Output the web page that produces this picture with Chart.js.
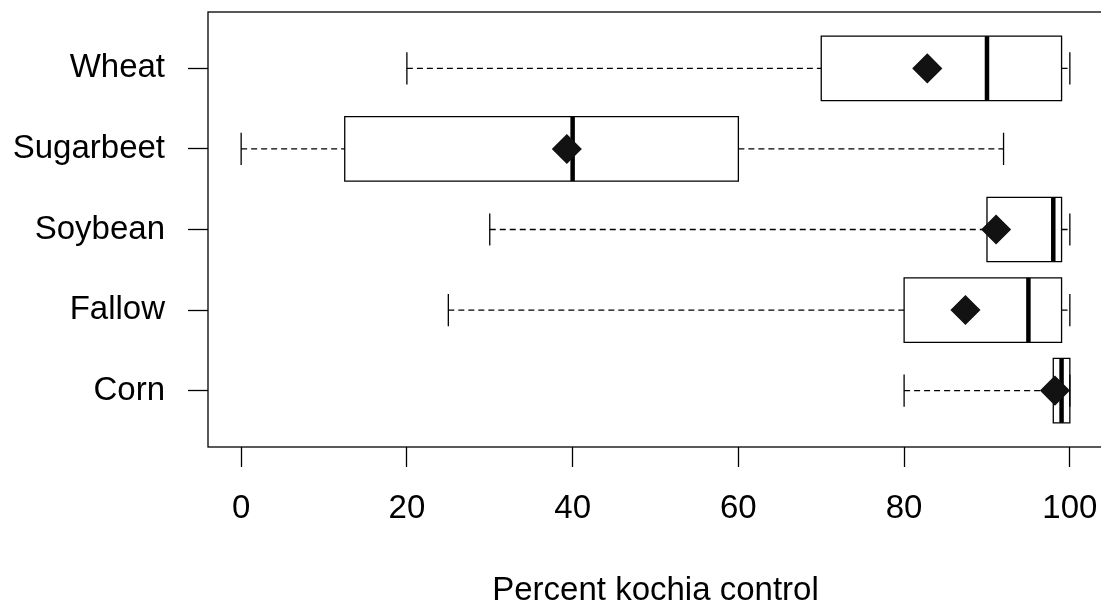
<!DOCTYPE html>
<html>
<head>
<meta charset="utf-8">
<script src="https://cdn.jsdelivr.net/npm/chart.js@4/dist/chart.umd.min.js"></script>
<style>
  html, body { margin: 0; padding: 0; background: #fff; overflow: hidden; }
  #wrap { width: 1110px; height: 620px; }
</style>
</head>
<body>
<div id="wrap"><canvas id="c" width="1110" height="620"></canvas></div>
<script>
// Categories (bottom to top)
const categories = ['Corn', 'Fallow', 'Soybean', 'Sugarbeet', 'Wheat'];
// Box statistics, percent kochia control
const whiskerLow  = [80, 25, 30, 0, 20];
const q1          = [98, 80, 90, 12.5, 70];
const medians     = [99, 95, 98, 40, 90];
const q3          = [100, 99, 99, 60, 99];
const whiskerHigh = [100, 100, 100, 92, 100];
const means       = [98.2, 87.4, 91.1, 39.3, 82.8];
// Axis ticks
const xTicks = [0, 20, 40, 60, 80, 100];
const xTitle = 'Percent kochia control';

const FONT = { family: "'Liberation Sans', Arial, Helvetica, sans-serif", size: 33 };
const BOX_HALF = 0.4;     // half box height in category units
const STAPLE_HALF = 0.2;  // half staple height in category units

function zeroPad(s) { s.paddingTop = 0; s.paddingBottom = 0; s.paddingLeft = 0; s.paddingRight = 0; }

const boxPlugin = {
  id: 'boxes',
  beforeDatasetsDraw(chart) {
    const ctx = chart.ctx;
    const xs = chart.scales.x, ys = chart.scales.y;
    ctx.save();
    ctx.strokeStyle = '#000';
    for (let i = 0; i < categories.length; i++) {
      const yc = ys.getPixelForValue(i + 1);
      const yT = ys.getPixelForValue(i + 1 + BOX_HALF);
      const yB = ys.getPixelForValue(i + 1 - BOX_HALF);
      const sT = ys.getPixelForValue(i + 1 + STAPLE_HALF);
      const sB = ys.getPixelForValue(i + 1 - STAPLE_HALF);
      const xLo = xs.getPixelForValue(whiskerLow[i]);
      const xQ1 = xs.getPixelForValue(q1[i]);
      const xMd = xs.getPixelForValue(medians[i]);
      const xQ3 = xs.getPixelForValue(q3[i]);
      const xHi = xs.getPixelForValue(whiskerHigh[i]);
      // whiskers (dashed)
      ctx.lineWidth = 1.3;
      ctx.setLineDash([6, 4]);
      ctx.beginPath();
      ctx.moveTo(xLo, yc); ctx.lineTo(xQ1, yc);
      ctx.moveTo(xQ3, yc); ctx.lineTo(xHi, yc);
      ctx.stroke();
      ctx.setLineDash([]);
      // staples
      ctx.beginPath();
      ctx.moveTo(xLo, sT); ctx.lineTo(xLo, sB);
      ctx.moveTo(xHi, sT); ctx.lineTo(xHi, sB);
      ctx.stroke();
      // box
      ctx.beginPath();
      ctx.rect(xQ1, yT, xQ3 - xQ1, yB - yT);
      ctx.stroke();
      // median
      ctx.lineWidth = 4.5;
      ctx.beginPath();
      ctx.moveTo(xMd, yT); ctx.lineTo(xMd, yB);
      ctx.stroke();
    }
    ctx.restore();
  },
  afterDraw(chart) {
    const { ctx, chartArea: a } = chart;
    ctx.save();
    ctx.strokeStyle = '#000';
    ctx.lineWidth = 1.3;
    ctx.strokeRect(a.left, a.top, a.right - a.left, a.bottom - a.top);
    ctx.restore();
  }
};

new Chart(document.getElementById('c'), {
  type: 'scatter',
  data: {
    datasets: [{
      label: 'Mean',
      data: means.map((m, i) => ({ x: m, y: i + 1 })),
      pointStyle: 'rectRot',
      pointRadius: 14,
      pointHoverRadius: 14,
      borderWidth: 1.5,
      backgroundColor: '#121212',
      borderColor: '#121212'
    }]
  },
  options: {
    responsive: false,
    animation: false,
    events: [],
    layout: { autoPadding: false, padding: { left: 0, top: 12, right: 7, bottom: 0 } },
    plugins: { legend: { display: false }, tooltip: { enabled: false } },
    scales: {
      x: {
        type: 'linear',
        min: -4, max: 104,
        afterBuildTicks(s) { s.ticks = xTicks.map(v => ({ value: v })); },
        afterFit(s) { s.height = 620 - 447; zeroPad(s); },
        border: { display: false },
        grid: { drawOnChartArea: false, drawTicks: true, tickLength: 20, tickColor: '#000', tickWidth: 1.3 },
        ticks: { color: '#000', font: FONT, padding: 22, maxRotation: 0, autoSkip: false },
        title: { display: true, text: xTitle, color: '#000', font: FONT, padding: { top: 0, bottom: 9 } }
      },
      y: {
        type: 'linear',
        min: 0.3, max: 5.7,
        afterBuildTicks(s) { s.ticks = categories.map((c, i) => ({ value: i + 1 })); },
        afterFit(s) { s.width = 208; zeroPad(s); },
        border: { display: false },
        grid: { drawOnChartArea: false, drawTicks: true, tickLength: 20, tickColor: '#000', tickWidth: 1.3 },
        ticks: { color: '#000', font: FONT, padding: 23, autoSkip: false,
                 callback: (v) => categories[v - 1] }
      }
    }
  },
  plugins: [boxPlugin]
});
</script>
</body>
</html>
